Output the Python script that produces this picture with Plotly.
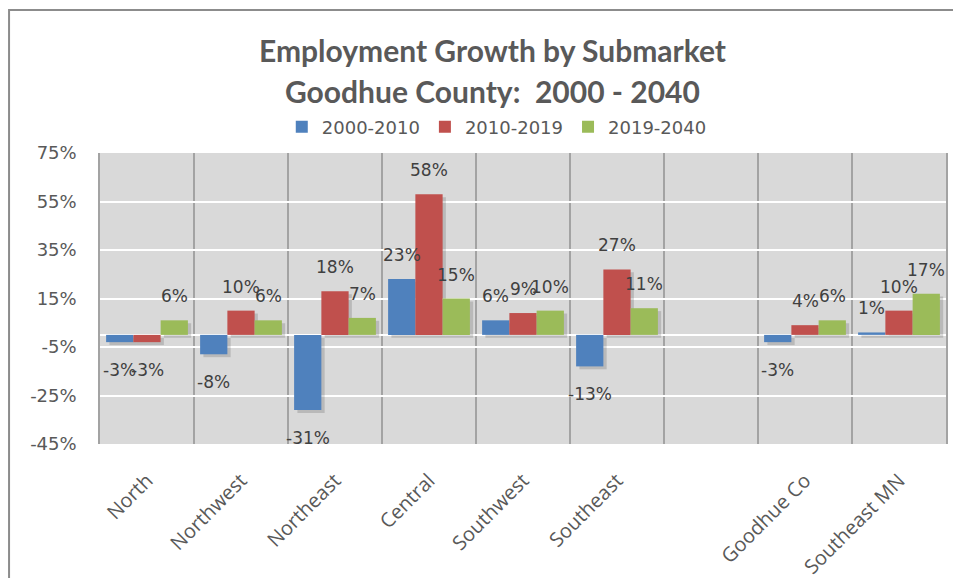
import plotly.graph_objects as go

categories = ["North", "Northwest", "Northeast", "Central", "Southwest", "Southeast", "", "Goodhue Co", "Southeast MN"]
series_names = ["2000-2010", "2010-2019", "2019-2040"]
growth_2000_2010 = [-3, -8, -31, 23, 6, -13, None, -3, 1]
growth_2010_2019 = [-3, 10, 18, 58, 9, 27, None, 4, 10]
growth_2019_2040 = [6, 6, 7, 15, 10, 11, None, 6, 17]
y_ticks = [75, 55, 35, 15, -5, -25, -45]

colors = ["#4f81bd", "#c0504d", "#9bbb59"]
series = [growth_2000_2010, growth_2010_2019, growth_2019_2040]

BAR_W = 0.29
SH_DX = 0.035
SH_DY = 1.2
x_idx = list(range(len(categories)))

fig = go.Figure()

# shadows
for k, vals in enumerate(series):
    off = (k - 1.5) * BAR_W
    xs, bases, lens = [], [], []
    for i, v in zip(x_idx, vals):
        if v is None:
            continue
        xs.append(i)
        bases.append(min(v, 0) - SH_DY)
        lens.append(abs(v))
    fig.add_trace(go.Bar(x=xs, y=lens, base=bases, width=BAR_W, offset=off + SH_DX,
                         marker=dict(color="rgba(60,60,60,0.2)", line=dict(width=0)),
                         showlegend=False, hoverinfo="skip"))

# bars
for k, (name, vals) in enumerate(zip(series_names, series)):
    off = (k - 1.5) * BAR_W
    fig.add_trace(go.Bar(x=x_idx, y=vals, name=name, width=BAR_W, offset=off,
                         marker=dict(color=colors[k], line=dict(width=0))))

# data labels
for k, vals in enumerate(series):
    center = (k - 1) * BAR_W
    for i, v in zip(x_idx, vals):
        if v is None:
            continue
        pos = v >= 0
        fig.add_annotation(x=i + center, y=v, text=f"{v}%", showarrow=False,
                           yanchor="bottom" if pos else "top",
                           yshift=12 if pos else -16,
                           font=dict(family="DejaVu Sans", size=17, color="#404040"))

fig.add_annotation(xref="paper", yref="paper", x=0.4645, y=1.354, text="<b>Employment Growth by Submarket</b>",
                   showarrow=False, font=dict(family="Lato", size=30, color="#595959"), yanchor="middle")
fig.add_annotation(xref="paper", yref="paper", x=0.4645, y=1.214, text="<b>Goodhue County:&nbsp; 2000 - 2040</b>",
                   showarrow=False, font=dict(family="Lato", size=30, color="#595959"), yanchor="middle")

# outer frame
fig.add_shape(type="rect", xref="paper", yref="paper", x0=-0.1075, x1=1.05, y0=-0.6, y1=1.491,
              line=dict(color="#8c8c8c", width=2), layer="below")

fig.update_layout(
    width=953, height=570,
    margin=dict(l=92, r=15, t=145, b=134, autoexpand=False),
    paper_bgcolor="white", plot_bgcolor="#d9d9d9",
    barmode="overlay",
    legend=dict(orientation="h", x=0.469, xanchor="center", y=1.089, yanchor="middle",
                font=dict(family="DejaVu Sans", size=18, color="#595959"), bgcolor="rgba(0,0,0,0)"),
    xaxis=dict(range=[-0.5, len(categories) - 0.5], tickmode="array", tickvals=x_idx, ticktext=categories,
               tickangle=-45, showgrid=False, zeroline=False, ticks="outside", ticklen=16, tickcolor="rgba(0,0,0,0)",
               tickfont=dict(family="Open Sans", size=20, color="#595959"), automargin=False,
               minor=dict(tickmode="array", tickvals=[i - 0.5 for i in x_idx] + [len(categories) - 0.5],
                          showgrid=True, gridcolor="#a3a3a3", gridwidth=1.5, ticks="")),
    yaxis=dict(range=[-45, 75], tickmode="array", tickvals=y_ticks, ticktext=[f"{t}%" for t in y_ticks],
               showgrid=True, gridcolor="white", gridwidth=1.5, zeroline=True, zerolinecolor="white", zerolinewidth=2,
               showline=True, mirror=True, linecolor="#a3a3a3", linewidth=1.5, automargin=False,
               ticks="outside", ticklen=18, tickcolor="rgba(0,0,0,0)",
               tickfont=dict(family="DejaVu Sans", size=18, color="#595959")),
    showlegend=True,
)

fig.write_html("out.html")
